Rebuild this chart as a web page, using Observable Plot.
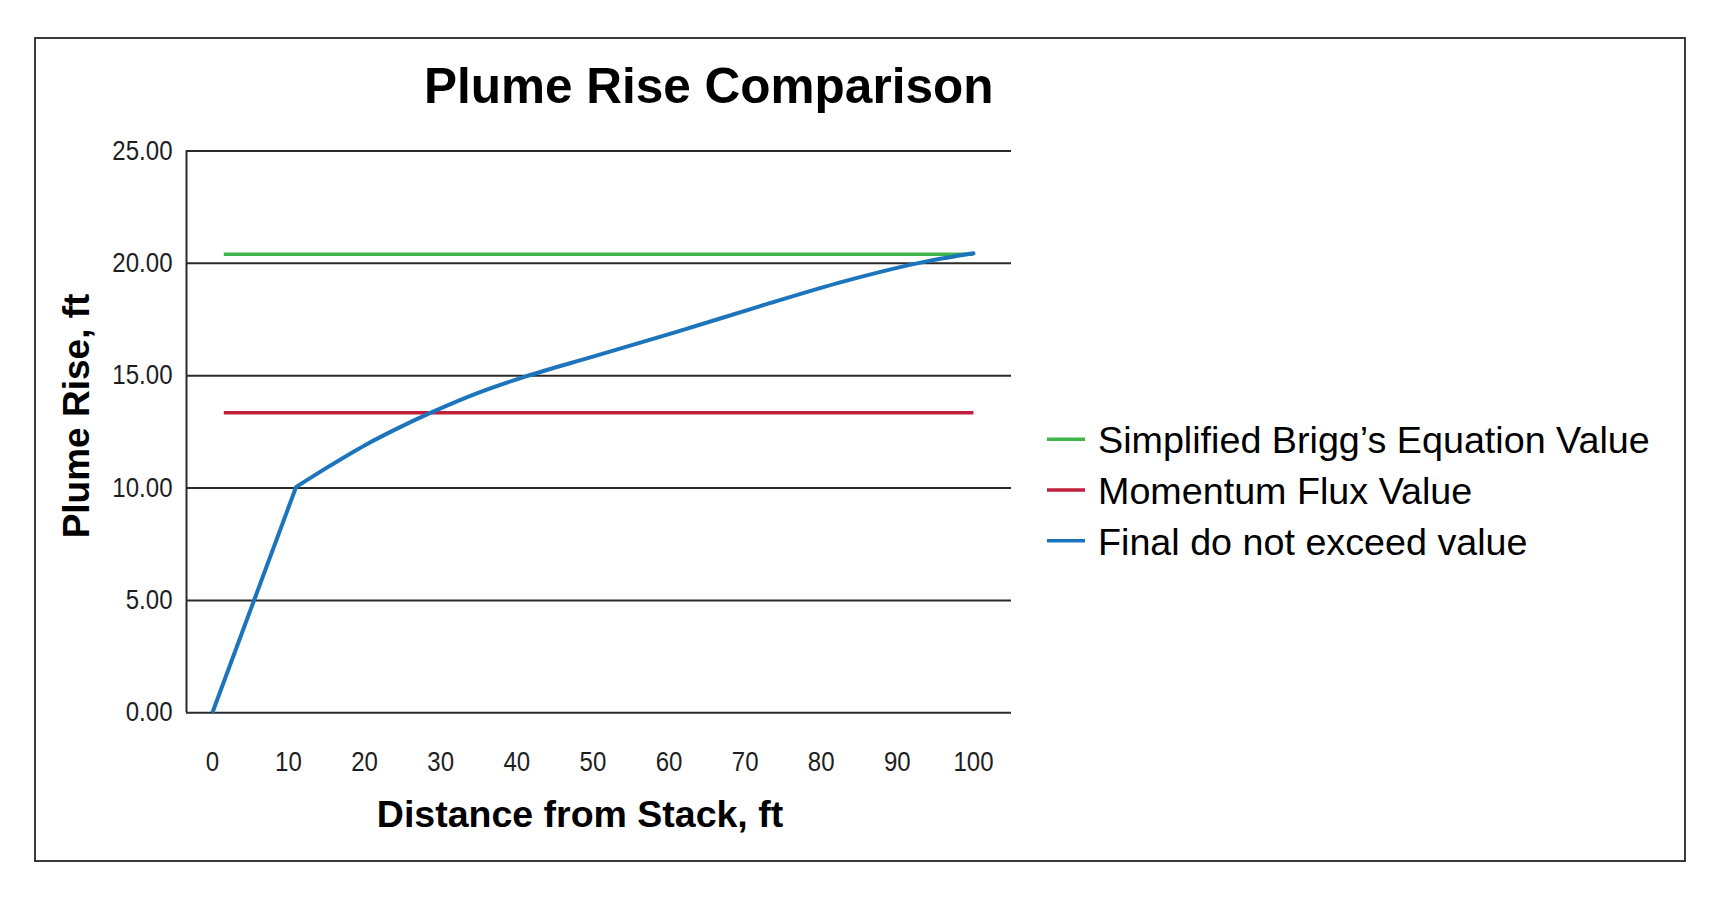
<!DOCTYPE html>
<html>
<head>
<meta charset="utf-8">
<script src="https://cdn.jsdelivr.net/npm/d3@7"></script>
<script src="https://cdn.jsdelivr.net/npm/@observablehq/plot@0.6"></script>
<style>
  html, body { margin: 0; padding: 0; background: #fff; }
  #wrap { position: relative; width: 1723px; height: 901px; overflow: hidden; background: #fff; }
  #wrap > svg { position: absolute; left: 0; top: 0; }
  #box { position: absolute; box-sizing: border-box; left: 34px; top: 37px; width: 1652px; height: 825px; border: 2px solid #3a3a3a; pointer-events: none; }
</style>
</head>
<body>
<div id="wrap"></div>
<script>
// ---- data ----
const xDomain = [-3.4, 105];
const yDomain = [0, 25];
const xTicks = [0, 10, 20, 30, 40, 50, 60, 70, 80, 90, 100];
const yTicks = [0, 5, 10, 15, 20, 25];

const seriesNames = ["Simplified Brigg\u2019s Equation Value", "Momentum Flux Value", "Final do not exceed value"];
const seriesColors = ["#3db54a", "#c1203b", "#1c75bc"];

const briggX = [1.5, 100];
const briggY = [20.4, 20.4];
const momentumX = [1.5, 100];
const momentumY = [13.35, 13.35];
const finalX = [0, 11, 15, 20, 24, 29, 35, 41, 50, 61, 72, 83, 94, 100];
const finalY = [0, 10.05, 10.9, 11.9, 12.6, 13.4, 14.25, 14.95, 15.85, 16.95, 18.1, 19.2, 20.1, 20.45];

const title = "Plume Rise Comparison";
const xTitle = "Distance from Stack, ft";
const yTitle = "Plume Rise, ft";

// ---- build tables ----
const toRows = (xs, ys) => xs.map((x, i) => ({x, y: ys[i]}));
const briggRows = toRows(briggX, briggY);
const momentumRows = toRows(momentumX, momentumY);
const finalRows = toRows(finalX, finalY);
const finalStraight = finalRows.slice(0, 2);   // near-field straight rise
const finalCurved = finalRows.slice(1);        // smooth far-field curve

const W = 1723, H = 901;
const mainFont = "'Liberation Sans', Arial, Helvetica, sans-serif";

const chart = Plot.plot({
  width: W,
  height: H,
  marginLeft: 186,
  marginRight: W - 1011,
  marginTop: 150.5,
  marginBottom: H - 712.3,
  style: { fontFamily: mainFont, fontSize: "27px", color: "#1e1e1e", background: "transparent" },
  x: { domain: xDomain },
  y: { domain: yDomain },
  marks: [
    Plot.gridY(yTicks, { stroke: "#2a2a2a", strokeOpacity: 1, strokeWidth: 2 }),
    Plot.ruleX([xDomain[0]], { y1: yDomain[0], y2: yDomain[1], stroke: "#2a2a2a", strokeWidth: 2 }),
    Plot.axisY(yTicks, { tickSize: 0, tickPadding: 14, tickFormat: d => d.toFixed(2), fontSize: 27, label: null }),
    Plot.axisX(xTicks, { tickSize: 0, tickPadding: 39, tickFormat: d => String(d), fontSize: 27, label: null }),
    Plot.line(briggRows, { x: "x", y: "y", stroke: seriesColors[0], strokeWidth: 3.5, strokeLinecap: "butt" }),
    Plot.line(momentumRows, { x: "x", y: "y", stroke: seriesColors[1], strokeWidth: 3.5, strokeLinecap: "butt" }),
    Plot.line(finalStraight, { x: "x", y: "y", stroke: seriesColors[2], strokeWidth: 4, strokeLinecap: "butt", strokeLinejoin: "round" }),
    Plot.line(finalCurved, { x: "x", y: "y", curve: "monotone-x", stroke: seriesColors[2], strokeWidth: 4, strokeLinecap: "round", strokeLinejoin: "round" })
  ]
});

const wrap = document.getElementById("wrap");
wrap.appendChild(chart);

// condense tick labels to mimic the narrow face of the original
d3.select(chart).selectAll('g[aria-label="y-axis tick label"] text, g[aria-label="x-axis tick label"] text')
  .each(function () {
    const len = this.getComputedTextLength();
    if (len > 0) {
      this.setAttribute("textLength", (len * 0.89).toFixed(2));
      this.setAttribute("lengthAdjust", "spacingAndGlyphs");
    }
  });

// ---- overlay: titles and legend ----
const ov = d3.create("svg").attr("width", W).attr("height", H)
  .style("position", "absolute").style("left", 0).style("top", 0)
  .attr("font-family", mainFont).attr("fill", "#000");

ov.append("text").attr("x", 424).attr("y", 103.3)
  .attr("font-size", 49.5).attr("font-weight", "bold").text(title);

ov.append("text").attr("x", 580).attr("y", 826.7).attr("text-anchor", "middle")
  .attr("font-size", 37.5).attr("font-weight", "bold").text(xTitle);

ov.append("text").attr("transform", "translate(89,416) rotate(-90)").attr("text-anchor", "middle")
  .attr("font-size", 37).attr("font-weight", "bold").text(yTitle);

const lg = ov.append("g");
seriesNames.forEach((name, i) => {
  const y = 439.3 + 50.7 * i;
  lg.append("line").attr("x1", 1047).attr("x2", 1085).attr("y1", y).attr("y2", y)
    .attr("stroke", seriesColors[i]).attr("stroke-width", 3.5);
  lg.append("text").attr("x", 1098).attr("y", y + 14).attr("font-size", 37.7).text(name);
});

wrap.appendChild(ov.node());

const box = document.createElement("div");
box.id = "box";
wrap.appendChild(box);
</script>
</body>
</html>
